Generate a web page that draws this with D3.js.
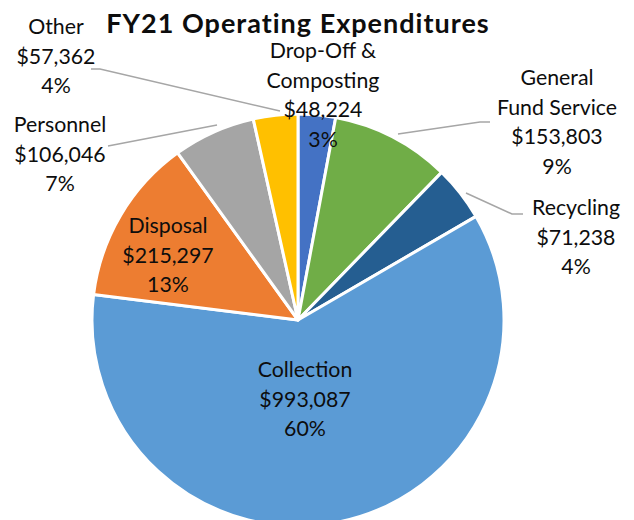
<!DOCTYPE html>
<html>
<head>
<meta charset="utf-8">
<script src="https://cdn.jsdelivr.net/npm/d3@7"></script>
<style>
  html, body { margin: 0; padding: 0; background: #fff; }
  svg { display: block; }
  text { font-family: Lato, "Open Sans", sans-serif; fill: #0d0d0d; }
</style>
</head>
<body>
<svg id="chart" width="634" height="520"></svg>
<script>
// FY21 operating expenditures by category, clockwise from 12 o'clock
const categories = ["Drop-Off & Composting", "General Fund Service", "Recycling", "Collection", "Disposal", "Personnel", "Other"];
const amounts = [48224, 153803, 71238, 993087, 215297, 106046, 57362];
const percentLabels = ["3%", "9%", "4%", "60%", "13%", "7%", "4%"];
const nameLines = [["Drop-Off &", "Composting"], ["General", "Fund Service"], ["Recycling"], ["Collection"], ["Disposal"], ["Personnel"], ["Other"]];
const colors = ["#4472C4", "#70AD47", "#255E91", "#5B9BD5", "#ED7D31", "#A5A5A5", "#FFC000"];

const W = 634, H = 520;
const cx = 298, cy = 320, R = 206;
const lineH = 29.5;

// label anchors (center x, first baseline y) and leader polylines
const labelLayout = [
  { x: 323, y: 58, leader: null },
  { x: 557, y: 85, leader: [[490, 122], [480, 122], [398, 134]] },
  { x: 576, y: 215, leader: [[523, 214], [512, 214], [466, 193]] },
  { x: 305, y: 377, leader: null },
  { x: 168, y: 233, leader: null },
  { x: 60, y: 132, leader: [[108, 146], [217, 125]] },
  { x: 56, y: 34, leader: [[91, 69], [100, 69], [280, 111]] }
];

const data = categories.map((c, i) => ({
  name: c, value: amounts[i], pct: percentLabels[i], lines: nameLines[i], color: colors[i], layout: labelLayout[i]
}));

const svg = d3.select("#chart");
const fmt = d3.format("$,");

const pie = d3.pie().value(d => d.value).sort(null).startAngle(0).endAngle(2 * Math.PI);
const arc = d3.arc().innerRadius(0).outerRadius(R);

const g = svg.append("g").attr("transform", `translate(${cx},${cy})`);
g.selectAll("path.slice")
  .data(pie(data))
  .join("path")
  .attr("class", "slice")
  .attr("d", arc)
  .attr("fill", d => d.data.color)
  .attr("stroke", "#fff")
  .attr("stroke-width", 3)
  .attr("stroke-linejoin", "round");

// leader lines
const line = d3.line();
svg.selectAll("path.leader")
  .data(data.filter(d => d.layout.leader))
  .join("path")
  .attr("class", "leader")
  .attr("d", d => line(d.layout.leader))
  .attr("fill", "none")
  .attr("stroke", "#a6a6a6")
  .attr("stroke-width", 1.5);

// data labels: name lines, amount, percentage
const labels = svg.selectAll("text.label")
  .data(data)
  .join("text")
  .attr("class", "label")
  .attr("text-anchor", "middle")
  .attr("font-size", 21.3);

labels.each(function(d) {
  const rows = [...d.lines, fmt(d.value), d.pct];
  d3.select(this).selectAll("tspan")
    .data(rows)
    .join("tspan")
    .attr("x", d.layout.x)
    .attr("y", (r, i) => d.layout.y + i * lineH)
    .text(r => r);
});

svg.append("text")
  .attr("x", 298)
  .attr("y", 33)
  .attr("text-anchor", "middle")
  .attr("font-size", 27)
  .attr("font-weight", "bold")
  .attr("letter-spacing", 1)
  .text("FY21 Operating Expenditures");
</script>
</body>
</html>
